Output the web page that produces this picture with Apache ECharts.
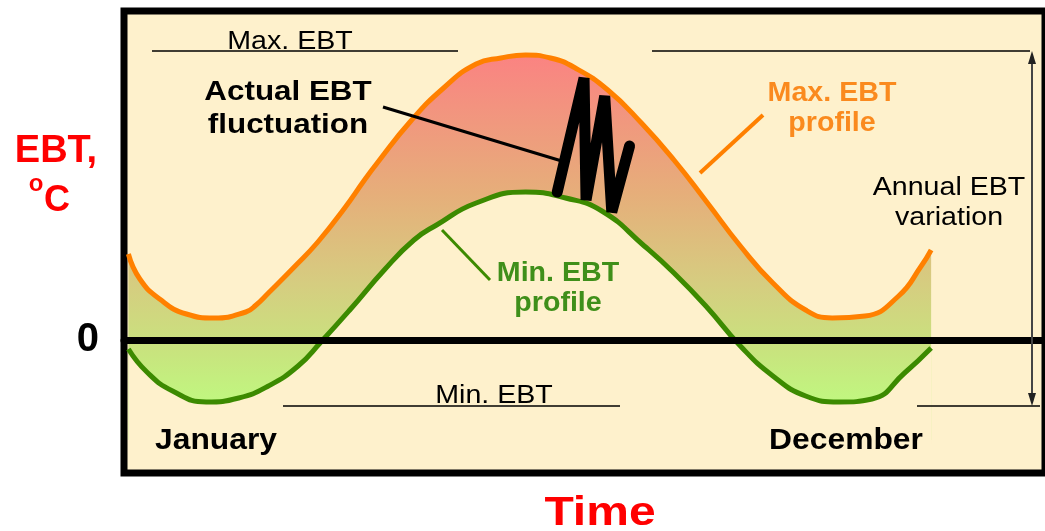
<!DOCTYPE html>
<html>
<head>
<meta charset="utf-8">
<title>EBT profile</title>
<script src="https://cdn.jsdelivr.net/npm/echarts@6/dist/echarts.min.js"></script>
<style>
  html, body { margin: 0; padding: 0; background: #fff; }
  #chart { width: 1045px; height: 531px; }
</style>
</head>
<body>
<div id="chart"></div>
<script>
// max EBT profile: day of year / deg C
const maxDays = [0, 5.2, 14.2, 26.4, 39.0, 53.4, 58.1, 63.7, 75.9, 86.2, 98.4, 107.4, 113.2, 128.1, 143.4, 158.2, 169.5, 180.7, 192.0, 203.3, 218.1, 233.4, 248.2, 263.1, 278.4, 293.2, 308.1, 320.2, 335.1, 350.4, 360.7, 365.2];
const maxTemp = [8.6, 6.1, 4.1, 2.6, 2.2, 2.8, 3.5, 4.7, 7.4, 9.8, 13.2, 16.0, 17.7, 21.8, 25.2, 27.6, 28.2, 28.5, 28.2, 27.2, 25.0, 21.7, 18.0, 13.8, 9.4, 5.7, 3.0, 2.2, 2.4, 4.4, 7.4, 9.0];

// min EBT profile
const minDays = [0, 8.4, 20.1, 35.4, 50.2, 63.7, 77.2, 87.6, 101.1, 116.4, 129.9, 140.2, 158.2, 180.7, 198.9, 215.4, 234.7, 248.2, 263.1, 278.4, 293.2, 308.1, 323.4, 338.3, 353.1, 365.2];
const minTemp = [-0.9, -3.2, -5.1, -6.2, -5.8, -4.6, -2.6, -0.2, 3.1, 7.0, 10.0, 11.5, 13.7, 14.8, 14.2, 12.9, 9.4, 6.7, 3.3, -0.6, -3.6, -5.6, -6.2, -5.9, -3.3, -0.8];

// actual EBT zigzag inside the band
const fluctDays = [195.1, 207.3, 208.2, 216.7, 219.9, 228.0];
const fluctTemp = [14.8, 26.2, 14.0, 24.4, 12.8, 19.4];

const FONT = "'Liberation Sans', Arial, sans-serif";
const ORANGE = '#ff8000';
const GREEN = '#3c8a00';
const BG = '#fef1cc';

const chart = echarts.init(document.getElementById('chart'));

const toPairs = (xs, ys) => xs.map((x, i) => [x, ys[i]]);

const text = (str, x, y, size, color, bold, sx, lh) => ({
  type: 'text',
  x: x,
  y: y,
  scaleX: sx || 1,
  z: 10,
  style: {
    text: str,
    fill: color,
    font: (bold ? 'bold ' : '') + size + 'px ' + FONT,
    textAlign: 'center',
    textVerticalAlign: 'middle',
    align: 'center',
    verticalAlign: 'middle',
    lineHeight: lh || size
  }
});

const seg = (x1, y1, x2, y2, color, w) => ({
  type: 'line',
  z: 10,
  shape: { x1: x1, y1: y1, x2: x2, y2: y2 },
  style: { stroke: color, lineWidth: w }
});

const option = {
  animation: false,
  backgroundColor: '#ffffff',
  grid: {
    left: 124,
    right: -10,
    top: 11,
    bottom: 58,
    show: true,
    backgroundColor: BG,
    borderColor: '#000',
    borderWidth: 7
  },
  xAxis: {
    type: 'value',
    min: -2,
    max: 417,
    z: 3,
    axisLine: { onZero: true, lineStyle: { color: '#000', width: 7 } },
    axisTick: { show: false },
    axisLabel: { show: false },
    splitLine: { show: false }
  },
  yAxis: {
    type: 'value',
    min: -13.3,
    max: 32.9,
    axisLine: { show: false },
    axisTick: { show: false },
    splitLine: { show: false },
    axisLabel: {
      margin: 25,
      color: '#000',
      fontSize: 40,
      fontWeight: 'bold',
      fontFamily: FONT,
      formatter: v => (v === 0 ? '0' : '')
    }
  },
  series: [
    {
      // band fill runs from the max profile down; the min profile area masks the lower part
      name: 'Max. EBT profile',
      type: 'line',
      smooth: true,
      showSymbol: false,
      z: 1,
      data: toPairs(maxDays, maxTemp),
      lineStyle: { color: ORANGE, width: 5 },
      areaStyle: {
        opacity: 1,
        origin: -10,
        color: new echarts.graphic.LinearGradient(0, 52, 0, 405, [
          { offset: 0, color: '#fb8282' },
          { offset: 0.4, color: '#e6ae7a' },
          { offset: 0.65, color: '#d6cc80' },
          { offset: 0.85, color: '#c8e47e' },
          { offset: 1, color: '#c0f880' }
        ], true)
      }
    },
    {
      name: 'Min. EBT profile',
      type: 'line',
      smooth: true,
      showSymbol: false,
      z: 2,
      data: toPairs(minDays, minTemp),
      lineStyle: { color: GREEN, width: 5 },
      areaStyle: { opacity: 1, origin: -10.4, color: BG }
    },
    {
      name: 'Actual EBT',
      type: 'line',
      showSymbol: false,
      z: 4,
      data: toPairs(fluctDays, fluctTemp),
      lineStyle: { color: '#000', width: 11, cap: 'round', join: 'miter', miterLimit: 2 }
    }
  ],
  graphic: [
    // reference levels and annual variation arrow
    seg(152, 51, 458, 51, '#000', 1.5),
    seg(652, 51, 1030, 51, '#000', 1.5),
    seg(283, 406, 620, 406, '#000', 1.5),
    seg(917, 406, 1040, 406, '#000', 1.5),
    seg(1032, 60, 1032, 398, '#444', 2),
    { type: 'polygon', z: 10, shape: { points: [[1032, 51], [1028, 64], [1036, 64]] }, style: { fill: '#222' } },
    { type: 'polygon', z: 10, shape: { points: [[1032, 406], [1028, 393], [1036, 393]] }, style: { fill: '#222' } },
    // pointers
    seg(383, 107, 565, 162, '#000', 3),
    seg(763, 115, 700, 173, ORANGE, 4),
    seg(490, 280, 442, 230, GREEN, 3),
    // texts
    text('Max. EBT', 290, 42, 26, '#000', false, 1.1),
    text('Min. EBT', 494, 396, 26, '#000', false, 1.1),
    text('Actual EBT\nfluctuation', 288, 109, 28, '#000', true, 1.12, 33),
    text('Max. EBT\nprofile', 832, 109, 27, '#fa8a1e', true, 1.06, 30),
    text('Min. EBT\nprofile', 558, 289, 27, '#3f8f1a', true, 1.06, 30),
    text('Annual EBT\nvariation', 949, 203, 26, '#000', false, 1.1, 30),
    text('January', 216, 441, 30, '#000', true, 1.06),
    text('December', 846, 441, 30, '#000', true, 1.06),
    text('EBT,', 56, 152, 38, '#ff0000', true, 1),
    text('o', 36, 184, 24, '#ff0000', true, 1),
    text('C', 57, 201, 36, '#ff0000', true, 1),
    text('Time', 600, 514, 40, '#ff0000', true, 1.2)
  ]
};

chart.setOption(option);
</script>
</body>
</html>
